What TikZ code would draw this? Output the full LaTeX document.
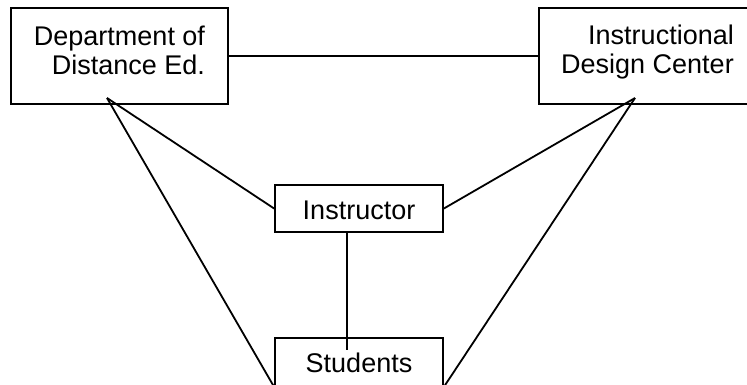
\documentclass[tikz,border=0pt]{standalone}
\usepackage{fontspec}
\setmainfont{Liberation Sans}
\usetikzlibrary{positioning}
\tikzset{
  every picture/.style={line width=1.8pt}
}

\begin{document}
\begin{tikzpicture}[x=1pt,y=-1pt,
    box/.style={rectangle,draw=black,align=right,inner sep=0pt,font=\fontsize{27}{29.5}\selectfont}]
        \useasboundingbox (0,0) rectangle (747,385);
        \node (DE) at (119.5,56) [box,minimum width=217pt,minimum height=96pt,text depth=12pt] {Department of\\Distance Ed.};
        \node (IDC) at (647.5,56) [box,minimum width=217pt,minimum height=96pt,text depth=14pt] {Instructional\\Design Center};
        \node (IN) at (359,208.5) [box,minimum width=168pt,minimum height=47pt,text height=23pt] {Instructor};
        \node (ST) at (359,362) [box,minimum width=168pt,minimum height=48pt,text height=22pt] {Students};
        \coordinate (DEa) at (107,98);
        \coordinate (IDCa) at (635,98);
        \coordinate (STin) at (347,350);

        \draw (DE) -- (IDC);
        \draw (DEa) -- (IN.west);
        \draw (DEa) -- (ST.south west);
        \draw (IDCa) -- (IN.east);
        \draw (IDCa) -- (ST.south east);
        \draw (IN.south -| STin) -- (STin);
    \end{tikzpicture}
\end{document}
